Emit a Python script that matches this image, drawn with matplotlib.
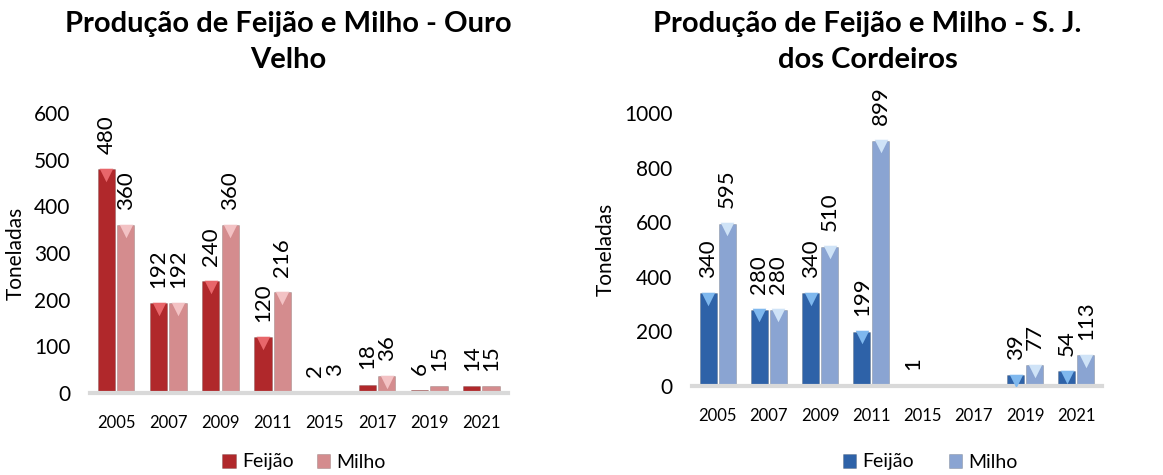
import matplotlib.pyplot as plt
from matplotlib.transforms import offset_copy
import numpy as np

plt.rcParams['font.family'] = ['Lato', 'DejaVu Sans']

# data
anos = ['2005', '2007', '2009', '2011', '2015', '2017', '2019', '2021']
feijao_ov = [480, 192, 240, 120, 2, 18, 6, 14]
milho_ov = [360, 192, 360, 216, 3, 36, 15, 15]
feijao_sj = [340, 280, 340, 199, 1, None, 39, 54]
milho_sj = [595, 280, 510, 899, None, None, 77, 113]


def bar_pair(fig, ax, x, y1, y2, c1, c2, tip1, tip2, ymax, step):
    w = 0.33
    off = 0.185
    pos = np.arange(len(x))
    v1 = np.array([np.nan if v is None else v for v in y1], dtype=float)
    v2 = np.array([np.nan if v is None else v for v in y2], dtype=float)
    b1 = ax.bar(pos - off, np.nan_to_num(v1), w, color=c1, edgecolor='#00000030', lw=0.6, label='Feijão', zorder=2)
    b2 = ax.bar(pos + off, np.nan_to_num(v2), w, color=c2, edgecolor='#00000030', lw=0.6, label='Milho', zorder=2)
    # bevel triangles on the bar tops
    tr = offset_copy(ax.transData, fig=fig, y=-4, units='points')
    for p, v, tip in [(pos - off, v1, tip1), (pos + off, v2, tip2)]:
        ok = v > ymax * 0.035
        ax.scatter(p[ok], v[ok], marker='v', s=95, color=tip, zorder=3, lw=0, transform=tr)
    for p, v in [(pos - off, v1), (pos + off, v2)]:
        for xi, vi in zip(p, v):
            if np.isnan(vi):
                continue
            ax.annotate(f'{int(vi)}', (xi, vi), xytext=(0, 11), textcoords='offset points',
                        rotation=90, ha='center', va='bottom', fontsize=16)
    ax.set_xlim(-0.5, len(x) - 0.5)
    ax.set_ylim(0, ymax)
    ax.set_yticks(np.arange(0, ymax + 1, step))
    ax.set_xticks(pos)
    ax.set_xticklabels(x, fontsize=12)
    ax.tick_params(axis='y', length=0, labelsize=15, pad=14)
    ax.tick_params(axis='x', length=0, pad=16)
    for s in ['top', 'right', 'left']:
        ax.spines[s].set_visible(False)
    ax.spines['bottom'].set_color('#D9D9D9')
    ax.spines['bottom'].set_linewidth(3)
    ax.set_ylabel('Toneladas', fontsize=15, labelpad=6)
    return b1, b2


fig = plt.figure(figsize=(11.63, 4.75), dpi=100)
ax1 = fig.add_axes([0.0774, 0.1726, 0.359, 0.589])
ax2 = fig.add_axes([0.595, 0.1874, 0.3525, 0.5747])

bar_pair(fig, ax1, anos, feijao_ov, milho_ov, '#B0282B', '#D48C8E', '#E8666A', '#F3C2C4', 600, 100)
bar_pair(fig, ax2, anos, feijao_sj, milho_sj, '#2E62A8', '#8AA4D2', '#7FB8EE', '#CFE3F7', 1000, 200)

fig.text(0.248, 0.976, 'Produção de Feijão e Milho - Ouro\nVelho', ha='center', va='top',
         fontsize=21, fontweight='bold', linespacing=1.45)
fig.text(0.746, 0.976, 'Produção de Feijão e Milho - S. J.\ndos Cordeiros', ha='center', va='top',
         fontsize=21, fontweight='bold', linespacing=1.45)

ax1.legend(loc='center', bbox_to_anchor=(304 / 1163, 1 - 462 / 475), bbox_transform=fig.transFigure,
           ncol=2, frameon=False, fontsize=14, handlelength=0.7, handleheight=0.7,
           handletextpad=0.3, columnspacing=1.2)
ax2.legend(loc='center', bbox_to_anchor=(930 / 1163, 1 - 462 / 475), bbox_transform=fig.transFigure,
           ncol=2, frameon=False, fontsize=14, handlelength=0.7, handleheight=0.7,
           handletextpad=0.3, columnspacing=1.8)

fig.savefig('out.png', dpi=100)
